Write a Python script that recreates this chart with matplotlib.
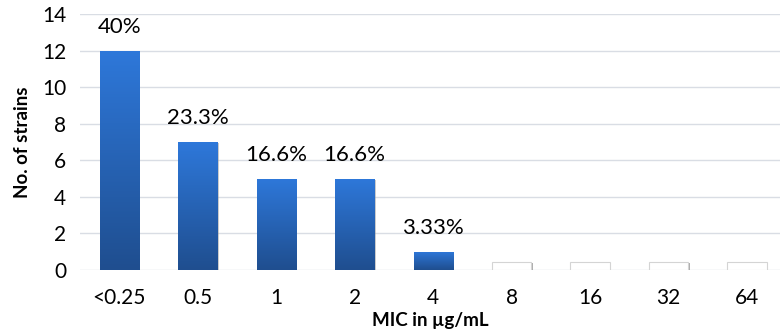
import numpy as np
import matplotlib
matplotlib.use('Agg')
import matplotlib.pyplot as plt
import matplotlib.patheffects as pe
from matplotlib.colors import LinearSegmentedColormap

# data
mic_labels = ['<0.25', '0.5', '1', '2', '4', '8', '16', '32', '64']
n_strains = [12, 7, 5, 5, 1, 0, 0, 0, 0]
pct_labels = ['40%', '23.3%', '16.6%', '16.6%', '3.33%', '', '', '', '']

plt.rcParams['font.family'] = ['Lato', 'DejaVu Sans']

fig = plt.figure(figsize=(7.8, 3.36), dpi=100)
ax = fig.add_axes([80 / 780, 66 / 336, 700 / 780, 256 / 336])

x = np.arange(len(mic_labels))
grad = LinearSegmentedColormap.from_list('bluegrad', ['#1f4e8f', '#2e78da'])
shadow = [pe.SimplePatchShadow(offset=(1, -1), shadow_rgbFace='#999999', alpha=0.5), pe.Normal()]

for xi, v, lab in zip(x, n_strains, pct_labels):
    if v > 0:
        b = ax.bar(xi, v, width=0.5, color='none', zorder=3)[0]
        b.set_path_effects(shadow)
        img = ax.imshow(np.linspace(0, 1, 256).reshape(-1, 1), cmap=grad, aspect='auto',
                        extent=[xi - 0.25, xi + 0.25, 0, v], origin='lower', zorder=3)
        img.set_clip_path(b)
        ax.annotate(lab, (xi, v), xytext=(0, 10), textcoords='offset points',
                    ha='center', va='bottom', fontsize=16)
    else:
        # empty categories show as a flat white box
        b = ax.bar(xi, 0.45, width=0.5, color='white', edgecolor='#d4d4d4', linewidth=0.8, zorder=3)[0]
        b.set_path_effects([pe.SimplePatchShadow(offset=(1.2, -1.2), shadow_rgbFace='#777777', alpha=0.6), pe.Normal()])

ax.set_xlim(-0.5, 8.42)
ax.set_ylim(0, 14)
ax.set_yticks(range(0, 15, 2))
ax.set_xticks(x)
ax.set_xticklabels(mic_labels)
ax.tick_params(axis='both', length=0, labelsize=15)
ax.tick_params(axis='x', pad=13)
ax.tick_params(axis='y', pad=10)
ax.grid(axis='y', color='#d9dde4', linewidth=1)
ax.set_axisbelow(True)
for s in ax.spines.values():
    s.set_visible(False)

ax.set_xlabel('MIC in µg/mL', fontsize=13.5, fontweight='bold', labelpad=3)
ax.set_ylabel('No. of strains', fontsize=13.5, fontweight='bold', labelpad=8)

fig.savefig('out.png', dpi=100)
